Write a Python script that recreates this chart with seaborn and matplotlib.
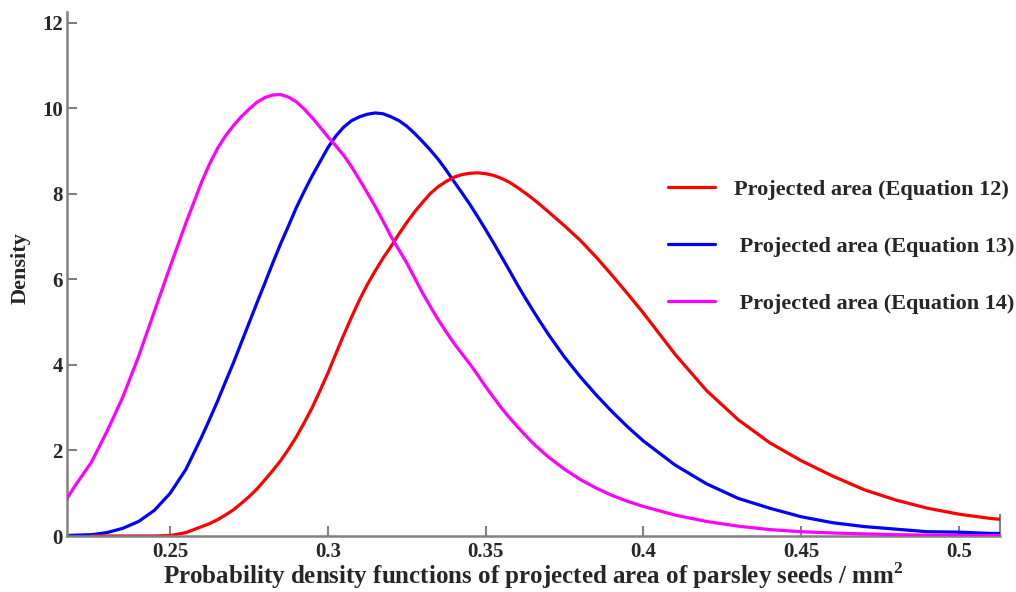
import numpy as np
import pandas as pd
import matplotlib
matplotlib.use("Agg")
import matplotlib.pyplot as plt
import seaborn as sns

# ---- data ----
x_vals = [0.2173, 0.220, 0.225, 0.230, 0.235, 0.240, 0.245, 0.250, 0.255, 0.260,
          0.2625, 0.265, 0.2675, 0.270, 0.2725, 0.275, 0.2775, 0.280, 0.2825, 0.285,
          0.2875, 0.290, 0.2925, 0.295, 0.2975, 0.300, 0.3025, 0.305, 0.3075, 0.310,
          0.3125, 0.315, 0.3175, 0.320, 0.3225, 0.325, 0.3275, 0.330, 0.3325, 0.335,
          0.3375, 0.340, 0.3425, 0.345, 0.3475, 0.350, 0.3525, 0.355, 0.3575, 0.360,
          0.3625, 0.365, 0.3675, 0.370, 0.375, 0.380, 0.385, 0.390, 0.395, 0.400,
          0.410, 0.420, 0.430, 0.440, 0.450, 0.460, 0.470, 0.480, 0.490, 0.500,
          0.510, 0.513]

eq12 = [np.nan, np.nan, 0.00, 0.00, 0.00, 0.00, 0.00, 0.01, 0.08, 0.22,
        0.29, 0.38, 0.49, 0.61, 0.76, 0.92, 1.10, 1.31, 1.53, 1.76,
        2.03, 2.32, 2.65, 3.00, 3.40, 3.81, 4.26, 4.70, 5.12, 5.52,
        5.88, 6.20, 6.50, 6.77, 7.06, 7.33, 7.58, 7.80, 8.01, 8.17,
        8.29, 8.39, 8.45, 8.48, 8.49, 8.47, 8.43, 8.36, 8.27, 8.15,
        8.02, 7.88, 7.73, 7.57, 7.25, 6.91, 6.52, 6.10, 5.66, 5.21,
        4.25, 3.40, 2.72, 2.18, 1.76, 1.40, 1.08, 0.84, 0.65, 0.51,
        0.41, 0.39]

eq13 = [0.01, 0.02, 0.03, 0.08, 0.18, 0.34, 0.60, 1.00, 1.56, 2.32,
        2.73, 3.15, 3.60, 4.04, 4.51, 4.98, 5.45, 5.91, 6.38, 6.83,
        7.25, 7.68, 8.06, 8.42, 8.75, 9.08, 9.35, 9.56, 9.71, 9.80,
        9.86, 9.89, 9.87, 9.80, 9.71, 9.58, 9.41, 9.22, 9.02, 8.80,
        8.55, 8.28, 8.02, 7.75, 7.46, 7.16, 6.85, 6.53, 6.21, 5.88,
        5.57, 5.27, 4.98, 4.70, 4.18, 3.72, 3.30, 2.91, 2.55, 2.22,
        1.66, 1.22, 0.88, 0.65, 0.45, 0.31, 0.22, 0.16, 0.10, 0.09,
        0.06, 0.06]

eq14 = [0.88, 1.19, 1.72, 2.45, 3.25, 4.20, 5.25, 6.30, 7.32, 8.28,
        8.70, 9.06, 9.35, 9.59, 9.80, 9.98, 10.14, 10.25, 10.31, 10.32,
        10.26, 10.15, 9.98, 9.78, 9.56, 9.33, 9.12, 8.90, 8.63, 8.33,
        8.02, 7.70, 7.36, 7.00, 6.69, 6.38, 6.03, 5.68, 5.36, 5.05,
        4.77, 4.50, 4.26, 4.02, 3.76, 3.49, 3.24, 2.99, 2.77, 2.56,
        2.36, 2.17, 2.00, 1.84, 1.56, 1.32, 1.12, 0.95, 0.81, 0.69,
        0.49, 0.34, 0.23, 0.15, 0.10, 0.07, 0.05, 0.03, 0.02, 0.01,
        0.01, 0.01]

labels = ["Projected area (Equation 12)", " Projected area (Equation 13)", " Projected area (Equation 14)"]
colors = ["#ff0000", "#0000ff", "#ff00ff"]
x_ticks = [0.25, 0.3, 0.35, 0.4, 0.45, 0.5]
x_tick_labels = ["0.25", "0.3", "0.35", "0.4", "0.45", "0.5"]
y_ticks = [0, 2, 4, 6, 8, 10, 12]

sns.set_style("ticks")
plt.rcParams["font.family"] = ["Liberation Serif", "DejaVu Serif"]
plt.rcParams["font.weight"] = "bold"
plt.rcParams["mathtext.fontset"] = "custom"
plt.rcParams["mathtext.bf"] = "Liberation Serif:bold"
plt.rcParams["mathtext.rm"] = "Liberation Serif:bold"

fig = plt.figure(figsize=(10.16, 5.92), dpi=100)
ax = fig.add_axes([67 / 1016, 56 / 592, (1000 - 67) / 1016, (592 - 12 - 56) / 592])

df = pd.DataFrame({"x": x_vals, "eq12": eq12, "eq13": eq13, "eq14": eq14})
series = [("eq12", 2), ("eq13", 1), ("eq14", 3)]
for (col, z), lab, c in zip(series, labels, colors):
    sns.lineplot(data=df, x="x", y=col, ax=ax, color=c, lw=2.3, label=lab, zorder=z)

ax.set_xlim(0.2173, 0.513)
ax.set_ylim(0, 12.25)
ax.set_xticks(x_ticks)
ax.set_xticklabels(x_tick_labels)
ax.set_yticks(y_ticks)
ax.set_xticks([0.513], minor=True)
ax.tick_params(axis="x", which="minor", direction="in", length=16, width=1.5, color="#808080")

for s in ["top", "right"]:
    ax.spines[s].set_visible(False)
for s in ["left", "bottom"]:
    ax.spines[s].set_color("#808080")
    ax.spines[s].set_linewidth(1.8)

ax.tick_params(axis="both", which="major", direction="in", length=7, width=1.5,
               color="#808080", labelsize=15)
ax.tick_params(axis="x", which="major", pad=4)
ax.tick_params(axis="y", which="major", pad=3)
for t in ax.get_xticklabels() + ax.get_yticklabels():
    t.set_fontweight("bold")

ax.set_xlabel("Probability density functions of projected area of parsley seeds / mm$^{\\mathrm{2}}$",
              fontsize=18, fontweight="bold", labelpad=-1)
ax.set_ylabel("Density", fontsize=16, fontweight="bold")
ax.yaxis.set_label_coords(-0.039, 0.5115)

h, l = ax.get_legend_handles_labels()
leg = ax.legend(h, l, loc="upper left", bbox_to_anchor=(668 / 1016, (592 - 179) / 592),
                bbox_transform=fig.transFigure, frameon=False, fontsize=16,
                handlelength=2.1, handletextpad=0.85, labelspacing=1.65,
                borderpad=0, borderaxespad=0)
for t in leg.get_texts():
    t.set_fontweight("bold")

fig.savefig("out.png", dpi=100)
